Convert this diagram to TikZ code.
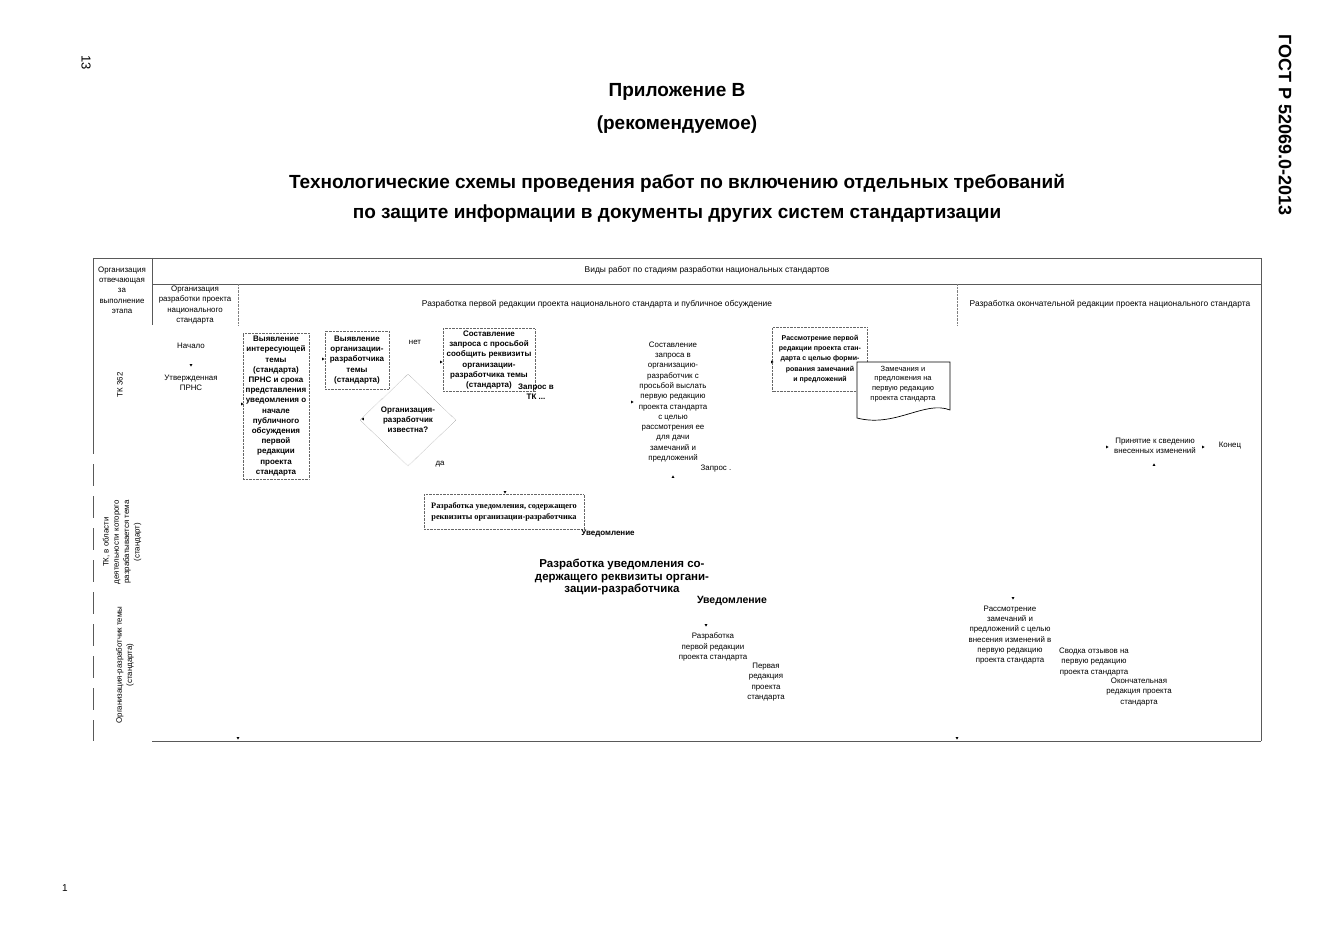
\documentclass[tikz,border=0pt]{standalone}
\usepackage{fontspec}
\setmainfont{Liberation Sans}
\newfontfamily\timesfam{Liberation Serif}
\usetikzlibrary{arrows.meta,shapes.geometric,positioning}
\tikzset{
  >=Stealth,
  every node/.style={font=\fontsize{7.9}{10.3}\selectfont, inner sep=0pt, align=center},
  headtxt/.style={font=\fontsize{8.4}{10.3}\selectfont},
  boldtxt/.style={font=\fontsize{8}{10.2}\selectfont\bfseries},
  titletxt/.style={font=\fontsize{19}{22}\selectfont\bfseries},
  actbox/.style={draw=gray!80!black, densely dotted, boldtxt},
  frameline/.style={draw=gray!70!black, line width=0.8pt},
  tipmark/.style={isosceles triangle, fill, isosceles triangle apex angle=60,
    minimum width=2.6pt, minimum height=2.4pt, inner sep=0pt},
  tipdown/.style={tipmark, shape border rotate=-90},
  tipright/.style={tipmark, shape border rotate=0},
  tipleft/.style={tipmark, shape border rotate=180},
  tipup/.style={tipmark, shape border rotate=90},
}

\begin{document}
\begin{tikzpicture}[x=1pt,y=-1pt]
  \useasboundingbox (0,0) rectangle (1323,936);

  % page head
  \node[rotate=-90, font=\fontsize{13}{13}\selectfont] (pagenum) at (86,63) {13};
  \node[rotate=-90, font=\fontsize{18}{18}\selectfont\bfseries] (gost) at (1285,125) {ГОСТ Р 52069.0-2013};
  \node[titletxt] (appx) at (677,92) {Приложение В};
  \node[titletxt] (recom) at (677,125) {(рекомендуемое)};
  \node[titletxt] (title1) at (677,183) {Технологические схемы проведения работ по включению отдельных требований};
  \node[titletxt] (title2) at (677,214) {по защите информации в документы других систем стандартизации};
  \node[font=\fontsize{10}{10}\selectfont] (footnum) at (65,888) {1};

  % table frame
  \draw[frameline] (93,258) -- (1261,258) -- (1261,741);
  \draw[frameline] (152,741) -- (1261,741);
  \draw[frameline] (152,284) -- (1261,284);
  \draw[frameline] (152,258) -- (152,325);
  \draw[frameline] (93,258) -- (93,432);
  \draw[frameline, dash pattern=on 22pt off 10pt] (93,432) -- (93,741);
  \draw[gray, densely dotted] (238,284) -- (238,325);
  \draw[gray, densely dotted] (957,284) -- (957,325);

  % header texts
  \node (resp) at (122,290) {Организация\\отвечающая\\за\\выполнение\\этапа};
  \node[headtxt] (kinds) at (707,270) {Виды работ по стадиям разработки национальных стандартов};
  \node (orgdev) at (195,305) {Организация\\разработки проекта\\национального\\стандарта};
  \node[headtxt] (stage1) at (597,304) {Разработка первой редакции проекта национального стандарта и публичное обсуждение};
  \node[headtxt] (stage2) at (1110,304) {Разработка окончательной редакции проекта национального стандарта};

  % row labels
  \node[rotate=90] (tk362) at (120,385) {ТК 362};
  \node[rotate=90] (tkarea) at (122,542) {ТК, в области\\деятельности которого\\разрабатывается тема\\(стандарт)};
  \node[rotate=90] (orgtheme) at (125,665) {Организация-разработчик темы\\(стандарта)};

  % TK 362 lane
  \node (start) at (191,346) {Начало};
  \node[tipdown] (t1) at (191,365) {};
  \node (prns) at (191,383) {Утвержденная\\ПРНС};

  \node[actbox, minimum width=66pt, minimum height=146pt] (findtheme) at (276,406)
    {Выявление\\интересующей\\темы\\(стандарта)\\ПРНС и срока\\представления\\уведомления о\\начале\\публичного\\обсуждения\\первой\\редакции\\проекта\\стандарта};
  \node[tipright] (t2) at (242,404) {};

  \node[actbox, minimum width=64pt, minimum height=58pt] (finddev) at (357,360)
    {Выявление\\организации-\\разработчика\\темы\\(стандарта)};
  \node[tipright] (t3) at (323,359) {};

  \node[diamond, draw=gray!80!black, densely dotted, boldtxt, minimum width=96pt, minimum height=92pt] (known) at (408,420)
    {Организация-\\разработчик\\известна?};
  \node[tipleft] (t4) at (363,419) {};
  \node (no) at (415,342) {нет};
  \node (yes) at (440,464) {да};

  \node[actbox, minimum width=92pt, minimum height=63pt] (askreq) at (489,360)
    {Составление\\запроса с просьбой\\сообщить реквизиты\\организации-\\разработчика темы\\(стандарта)};
  \node[tipright] (t5) at (441,362) {};
  \node[boldtxt] (reqtk) at (536,392) {Запрос в\\ТК ...};

  \node (askfirst) at (673,402) {Составление\\запроса в\\организацию-\\разработчик с\\просьбой выслать\\первую редакцию\\проекта стандарта\\с целью\\рассмотрения ее\\для дачи\\замечаний и\\предложений};
  \node[tipright] (t6) at (632,402) {};
  \node (req) at (716,469) {Запрос .};
  \node[tipup] (t7) at (673,477) {};

  \node[actbox, minimum width=95pt, minimum height=64pt, font=\fontsize{7}{10.3}\selectfont\bfseries] (review1) at (820,359)
    {Рассмотрение первой\\редакции проекта стан-\\дарта с целью форми-\\рования замечаний\\и предложений};
  \node[tipright] (t8) at (772,362) {};
  \draw[fill=white, draw=black, line width=0.7pt] (857,362) -- (950,362) -- (950,410)
    .. controls (925,400) and (895,428) .. (857,418) -- cycle;
  \node[font=\fontsize{7.5}{9.8}\selectfont] (remarks) at (903,384)
    {Замечания и\\предложения на\\первую редакцию\\проекта стандарта};

  \node (accept) at (1155,446) {Принятие к сведению\\внесенных изменений};
  \node[tipright] (t9) at (1107,447) {};
  \node[tipright] (t10) at (1203,447) {};
  \node (finish) at (1230,446) {Конец};
  \node[tipup] (t11) at (1154,465) {};

  % TK of the area lane
  \node[tipdown] (t12) at (505,492) {};
  \node[draw=gray!80!black, densely dotted, minimum width=160pt, minimum height=35pt,
    font=\fontsize{8.3}{11}\timesfam\bfseries] (notifbox) at (504,512)
    {Разработка уведомления, содержащего\\реквизиты организации-разработчика};
  \node[boldtxt] (notif1) at (608,534) {Уведомление};
  \node[font=\fontsize{11.5}{12.6}\selectfont\bfseries] (notifbig) at (622,577)
    {Разработка уведомления со-\\держащего реквизиты органи-\\зации-разработчика};
  \node[font=\fontsize{10.5}{12}\selectfont\bfseries] (notif2) at (732,601) {Уведомление};

  % developer lane
  \node[tipdown] (t13) at (706,625) {};
  \node (draft) at (713,647) {Разработка\\первой редакции\\проекта стандарта};
  \node (firstred) at (766,682) {Первая\\редакция\\проекта\\стандарта};

  \node[tipdown] (t14) at (1013,598) {};
  \node (review2) at (1010,635) {Рассмотрение\\замечаний и\\предложений с целью\\внесения изменений в\\первую редакцию\\проекта стандарта};
  \node (summary) at (1094,662) {Сводка отзывов на\\первую редакцию\\проекта стандарта};
  \node (finalred) at (1139,692) {Окончательная\\редакция проекта\\стандарта};

  \node[tipdown] (t15) at (238,738) {};
  \node[tipdown] (t16) at (957,738) {};
\end{tikzpicture}
\end{document}
